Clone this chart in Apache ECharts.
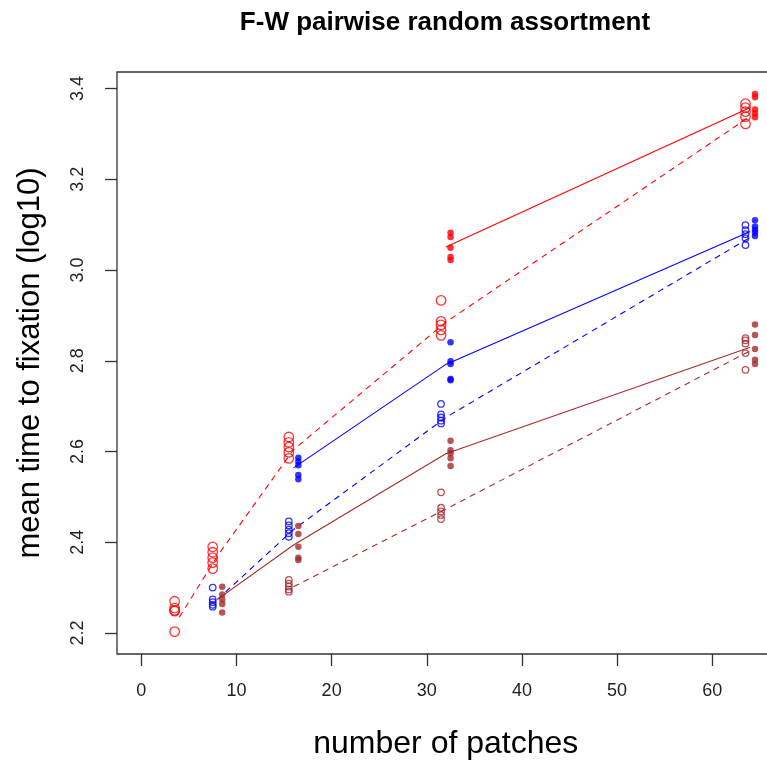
<!DOCTYPE html>
<html>
<head>
<meta charset="utf-8">
<script src="https://cdn.jsdelivr.net/npm/echarts@6/dist/echarts.min.js"></script>
<style>
html,body{margin:0;padding:0;background:#fff;}
#chart{width:767px;height:761px;}
</style>
</head>
<body>
<div id="chart"></div>
<script>
// ---- data ----
const titleText = 'F-W pairwise random assortment';
const xAxisTitle = 'number of patches';
const yAxisTitle = 'mean time to fixation (log10)';
const xTicks = [0, 10, 20, 30, 40, 50, 60];
const yTicks = [2.2, 2.4, 2.6, 2.8, 3.0, 3.2, 3.4];

// open-symbol points sit half a unit left of the patch count, filled ones half a unit right
const redOpenX = [3.5, 7.5, 15.5, 31.5, 63.5];
const redOpenY = [
  [2.270, 2.255, 2.250, 2.248, 2.203],
  [2.390, 2.378, 2.366, 2.355, 2.342],
  [2.632, 2.620, 2.610, 2.598, 2.585],
  [2.933, 2.887, 2.879, 2.868, 2.856],
  [3.367, 3.358, 3.349, 3.338, 3.322]
];
const redFilledX = [32.5, 64.5];
const redFilledY = [
  [3.082, 3.073, 3.049, 3.029, 3.022],
  [3.388, 3.381, 3.354, 3.345, 3.337]
];
const blueOpenX = [7.5, 15.5, 31.5, 63.5];
const blueOpenY = [
  [2.300, 2.274, 2.268, 2.262, 2.258],
  [2.446, 2.437, 2.428, 2.420, 2.412],
  [2.705, 2.682, 2.675, 2.668, 2.662],
  [3.099, 3.088, 3.079, 3.070, 3.055]
];
const blueFilledX = [16.5, 32.5, 64.5];
const blueFilledY = [
  [2.586, 2.578, 2.570, 2.548, 2.539],
  [2.841, 2.799, 2.793, 2.760, 2.757],
  [3.110, 3.096, 3.089, 3.083, 3.075]
];
const brownOpenX = [15.5, 31.5, 63.5];
const brownOpenY = [
  [2.317, 2.309, 2.302, 2.296, 2.291],
  [2.510, 2.476, 2.468, 2.460, 2.451],
  [2.850, 2.845, 2.838, 2.817, 2.780]
];
const brownFilledX = [8.5, 16.5, 32.5, 64.5];
const brownFilledY = [
  [2.302, 2.285, 2.274, 2.264, 2.245],
  [2.436, 2.418, 2.390, 2.366, 2.361],
  [2.624, 2.603, 2.596, 2.585, 2.568],
  [2.880, 2.857, 2.826, 2.802, 2.793]
];

// mean lines, drawn at the patch counts
const redDashedX = [4, 8, 16, 32, 64];
const redDashedY = [2.235, 2.370, 2.604, 2.885, 3.339];
const redSolidX = [32, 64];
const redSolidY = [3.051, 3.358];
const blueDashedX = [8, 16, 32, 64];
const blueDashedY = [2.274, 2.428, 2.675, 3.072];
const blueSolidX = [16, 32, 64];
const blueSolidY = [2.564, 2.792, 3.085];
const brownDashedX = [16, 32, 64];
const brownDashedY = [2.302, 2.473, 2.822];
const brownSolidX = [8, 16, 32, 64];
const brownSolidY = [2.274, 2.394, 2.595, 2.830];

// ---- build ----
const RED = '#ff0000', BLUE = '#0000ff', BROWN = '#a52a2a';
const FONT = 'Liberation Sans';

function pts(xs, ys) {
  const out = [];
  xs.forEach((x, i) => ys[i].forEach(y => out.push([x, y])));
  return out;
}
function pairs(xs, ys) { return xs.map((x, i) => [x, ys[i]]); }

function openSeries(name, color, size, xs, ys) {
  return {
    name, type: 'scatter', data: pts(xs, ys), symbol: 'circle', symbolSize: size,
    itemStyle: { color: 'rgba(0,0,0,0)', borderColor: color, borderWidth: 1.3 },
    silent: true, z: 3
  };
}
function filledSeries(name, color, size, xs, ys) {
  return {
    name, type: 'scatter', data: pts(xs, ys), symbol: 'circle', symbolSize: size,
    itemStyle: { color: color }, silent: true, z: 3
  };
}
function lineSeries(name, color, type, xs, ys) {
  return {
    name, type: 'line', data: pairs(xs, ys), showSymbol: false, symbol: 'none',
    lineStyle: { color: color, width: 1.1, type: type === 'dashed' ? [6, 5] : 'solid' },
    silent: true, z: 2, animation: false
  };
}

const chart = echarts.init(document.getElementById('chart'), null, { renderer: 'canvas' });
chart.setOption({
  animation: false,
  backgroundColor: '#fff',
  title: {
    text: titleText, left: 445, top: 10, textAlign: 'center', padding: 0,
    textStyle: { fontFamily: FONT, fontWeight: 'bold', fontSize: 26, color: '#000' }
  },
  grid: {
    left: 117, top: 72, right: -7.6, bottom: 107,
    outerBoundsMode: 'none', containLabel: false,
    show: true, borderColor: '#333', borderWidth: 1.3, backgroundColor: 'transparent'
  },
  xAxis: {
    type: 'value', min: -2.56, max: 66.56,
    name: xAxisTitle, nameLocation: 'middle', nameGap: 74,
    nameTextStyle: { fontFamily: FONT, fontSize: 32, color: '#000' },
    axisLine: { show: false, onZero: false },
    axisTick: { show: true, length: 12, customValues: xTicks, lineStyle: { color: '#333', width: 1.3 } },
    axisLabel: { customValues: xTicks, margin: 28, fontFamily: FONT, fontSize: 18, color: '#222' },
    splitLine: { show: false }
  },
  yAxis: {
    type: 'value', min: 2.1537, max: 3.4365,
    name: yAxisTitle, nameLocation: 'middle', nameGap: 71,
    nameTextStyle: { fontFamily: FONT, fontSize: 31, color: '#000' },
    axisLine: { show: false, onZero: false },
    axisTick: { show: true, length: 12, customValues: yTicks, lineStyle: { color: '#333', width: 1.3 } },
    axisLabel: {
      customValues: yTicks, rotate: 90, margin: 30, fontFamily: FONT, fontSize: 18, color: '#222',
      formatter: v => v.toFixed(1)
    },
    splitLine: { show: false }
  },
  series: [
    lineSeries('red dashed', RED, 'dashed', redDashedX, redDashedY),
    lineSeries('red solid', RED, 'solid', redSolidX, redSolidY),
    lineSeries('blue dashed', BLUE, 'dashed', blueDashedX, blueDashedY),
    lineSeries('blue solid', BLUE, 'solid', blueSolidX, blueSolidY),
    lineSeries('brown dashed', BROWN, 'dashed', brownDashedX, brownDashedY),
    lineSeries('brown solid', BROWN, 'solid', brownSolidX, brownSolidY),
    openSeries('red open', RED, 9.5, redOpenX, redOpenY),
    filledSeries('red filled', RED, 6.5, redFilledX, redFilledY),
    openSeries('blue open', BLUE, 6.5, blueOpenX, blueOpenY),
    filledSeries('blue filled', BLUE, 6.5, blueFilledX, blueFilledY),
    openSeries('brown open', BROWN, 6.5, brownOpenX, brownOpenY),
    filledSeries('brown filled', BROWN, 6.5, brownFilledX, brownFilledY)
  ]
});
</script>
</body>
</html>
